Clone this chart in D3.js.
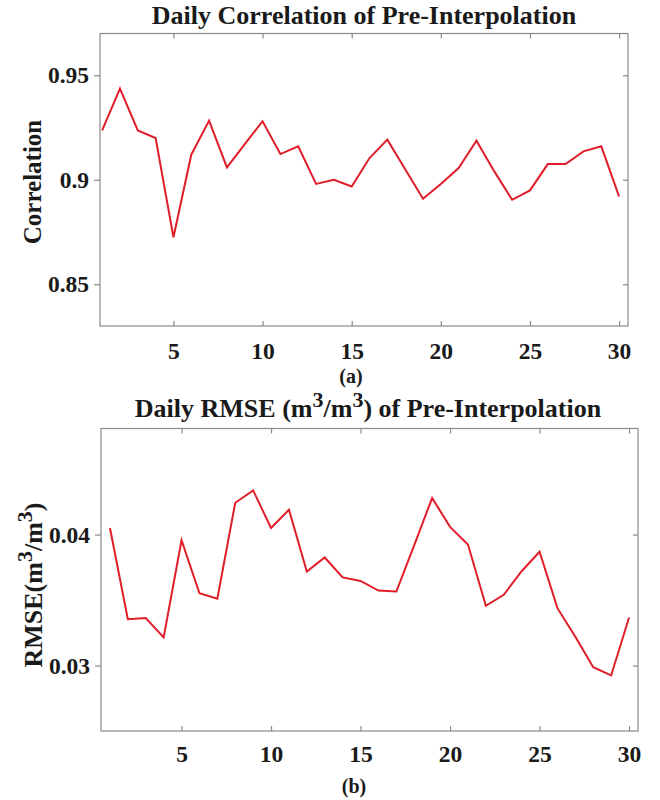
<!DOCTYPE html>
<html><head><meta charset="utf-8">
<script src="https://cdn.jsdelivr.net/npm/d3@7/dist/d3.min.js"></script>
<style>body{margin:0;background:#fff}</style>
</head><body><svg id="c" width="660" height="800"></svg>
<script>
const days = d3.range(1, 31);
const correlation = [0.9236,0.9436,0.9236,0.9200,0.8725,0.9120,0.9283,0.9059,0.9170,0.9280,
  0.9123,0.9160,0.8980,0.9000,0.8968,0.9104,0.9192,0.9050,0.8909,0.8980,
  0.9056,0.9187,0.9040,0.8904,0.8949,0.9075,0.9075,0.9136,0.9160,0.8920];
const rmse = [0.0405,0.03354,0.03362,0.03215,0.03957,0.03552,0.0351,0.04243,0.04337,0.0405,
  0.0419,0.03717,0.03825,0.03673,0.03646,0.03572,0.03565,0.0392,0.04279,0.04059,
  0.03924,0.03456,0.0354,0.0372,0.03869,0.03438,0.0322,0.02987,0.02924,0.03367];
const xTicks = [5,10,15,20,25,30];
const corrTicks = [0.85,0.9,0.95];
const rmseTicks = [0.03,0.04];

const svg = d3.select("#c");
const FONT = "'Liberation Serif','Times New Roman',serif";
const frameColor = "#8a8a8a";
const lineColor = "#e01e2a";

function panel(o){
  const x = d3.scaleLinear().domain(o.xdom).range([o.left, o.right]);
  const y = d3.scaleLinear().domain(o.ydom).range([o.bottom, o.top]);
  const g = svg.append("g");
  g.append("rect").attr("x", o.left).attr("y", o.top)
    .attr("width", o.right - o.left).attr("height", o.bottom - o.top)
    .attr("fill", "none").attr("stroke", frameColor).attr("stroke-width", 1.2);
  const xb = g.append("g").attr("transform", `translate(0,${o.bottom})`)
    .call(d3.axisBottom(x).tickValues(xTicks).tickSize(-5).tickPadding(o.xpad).tickFormat(d3.format("d")));
  const xt = g.append("g").attr("transform", `translate(0,${o.top})`)
    .call(d3.axisTop(x).tickValues(xTicks).tickSize(-5).tickFormat(""));
  const yl = g.append("g").attr("transform", `translate(${o.left},0)`)
    .call(d3.axisLeft(y).tickValues(o.yticks).tickSize(6).tickPadding(5).tickFormat(o.yfmt));
  const yr = g.append("g").attr("transform", `translate(${o.right},0)`)
    .call(d3.axisRight(y).tickValues(o.yticks).tickSize(-5).tickFormat(""));
  [xb, xt, yl, yr].forEach(a => {
    a.select(".domain").remove();
    a.selectAll(".tick line").attr("stroke", frameColor).attr("stroke-width", 1.2);
    a.selectAll("text").attr("font-family", FONT).attr("font-weight", "bold")
      .attr("font-size", 23.5).attr("fill", "#1a1a1a");
  });
  xb.selectAll("text").attr("dy", "0.71em");
  g.append("path").datum(o.values)
    .attr("d", d3.line().x((d, i) => x(days[i])).y(d => y(d)))
    .attr("fill", "none").attr("stroke", lineColor).attr("stroke-width", 2)
    .attr("stroke-linejoin", "miter");
  return {x, y, g};
}

panel({xdom:[0.88,30.5], ydom:[0.83,0.97], left:100, right:628, top:33.5, bottom:326, xpad:16,
  values: correlation, yticks: corrTicks, yfmt: d => d3.format("")(d)});
panel({xdom:[0.5,30.5], ydom:[0.025,0.0481], left:101, right:638, top:428.5, bottom:731, xpad:14,
  values: rmse, yticks: rmseTicks, yfmt: d3.format(".2f")});

function txt(x, y, s, size, rot){
  const t = svg.append("text").attr("x", x).attr("y", y).attr("text-anchor", "middle")
    .attr("font-family", FONT).attr("font-weight", "bold").attr("font-size", size)
    .attr("fill", "#1a1a1a");
  if (rot) t.attr("transform", `rotate(-90,${x},${y})`);
  if (s) t.text(s);
  return t;
}
function withSup(t, parts){
  let back = 0;
  parts.forEach(p => {
    if (p.sup) {
      t.append("tspan").attr("dy", -10).attr("font-size", 22).text(p.sup);
      back = 10;
    } else {
      t.append("tspan").attr("dy", back).text(p.t);
      back = 0;
    }
  });
}
txt(364, 24, "Daily Correlation of Pre-Interpolation", 26);
withSup(txt(368, 417, null, 26), [{t:"Daily RMSE (m"},{sup:"3"},{t:"/m"},{sup:"3"},{t:") of Pre-Interpolation"}]);

txt(41, 182, "Correlation", 25, true);
withSup(txt(42, 585, null, 26, true), [{t:"RMSE(m"},{sup:"3"},{t:"/m"},{sup:"3"},{t:")"}]);

txt(351, 383, "(a)", 20);
txt(354, 793, "(b)", 20);
</script></body></html>
